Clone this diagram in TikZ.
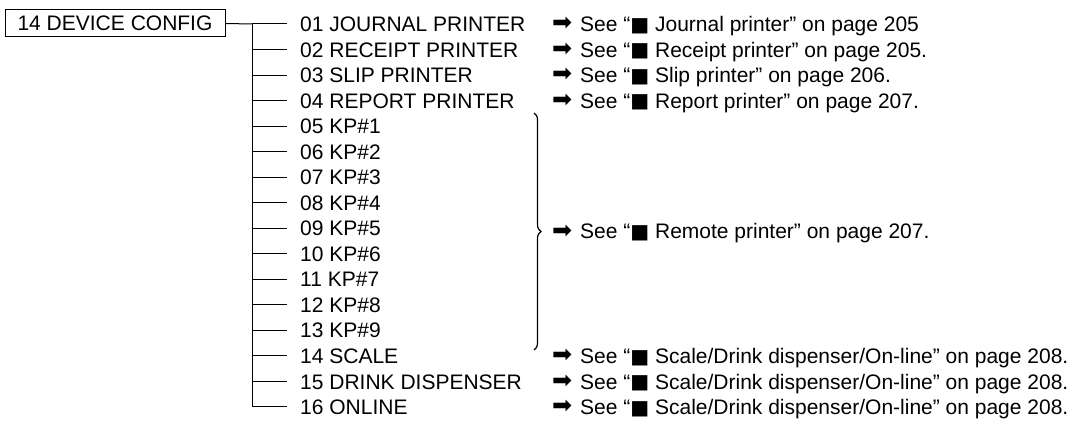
\documentclass[tikz,border=0pt]{standalone}
\usepackage{fontspec}
\setmainfont{Liberation Sans}
\newfontfamily\symfont{DejaVu Sans}
\usetikzlibrary{decorations.pathreplacing}
\begin{document}
\begin{tikzpicture}[x=1pt,y=-1pt,
  every node/.style={font=\fontsize{21}{25}\selectfont, inner sep=0pt},
  item/.style={anchor=base west, inner xsep=13pt},
  ref/.style={anchor=base west},
  arr/.style={anchor=west, font=\symfont\fontsize{24}{26}\selectfont},
  conn/.style={line width=1pt},
  rootbox/.style={draw, line width=1pt, minimum width=220pt, minimum height=27pt, inner xsep=0pt}]
\useasboundingbox (0,0) rectangle (1075,435);
\newcommand\sq{{\symfont\fontsize{20}{22}\selectfont\raisebox{0.3pt}{■}}}
\node[rootbox] (root) at (115,23.5) {14 DEVICE CONFIG};
\coordinate (trunktop) at (252,24);
\coordinate (trunkbot) at (252,407);
\draw[conn] (root.east) -- (trunktop);
\draw[conn] (trunktop) -- (trunkbot);
\foreach \i/\t [count=\k from 0] in {
  01/01 JOURNAL PRINTER, 02/02 RECEIPT PRINTER, 03/03 SLIP PRINTER, 04/04 REPORT PRINTER,
  05/05 KP\#1, 06/06 KP\#2, 07/07 KP\#3, 08/08 KP\#4, 09/09 KP\#5, 10/10 KP\#6,
  11/11 KP\#7, 12/12 KP\#8, 13/13 KP\#9, 14/14 SCALE, 15/15 DRINK DISPENSER, 16/16 ONLINE} {
  \pgfmathsetmacro\yy{24+25.53*\k}
  \coordinate (b\i) at (252,\yy);
  \node[item] (n\i) at (287,\yy+7.6) {\t};
  \draw[conn] (b\i) -- (b\i -| n\i.west);
}
% references
\foreach \i/\r in {
  01/{See “\sq{} Journal printer” on page 205},
  02/{See “\sq{} Receipt printer” on page 205.},
  03/{See “\sq{} Slip printer” on page 206.},
  04/{See “\sq{} Report printer” on page 207.},
  14/{See “\sq{} Scale/Drink dispenser/On-line” on page 208.},
  15/{See “\sq{} Scale/Drink dispenser/On-line” on page 208.},
  16/{See “\sq{} Scale/Drink dispenser/On-line” on page 208.}} {
  \node[arr] (a\i) at (552,0 |- b\i) {➡};
  \node[ref] (r\i) at (580,0 |- n\i.base) {\r};
}
% brace
\coordinate (bt) at (534,113);
\coordinate (bb) at (534,350);
\draw[line width=1.2pt, decorate, decoration={brace, amplitude=7pt}] (bt) -- (bb);
\coordinate (btip) at (541,231.5);
\node[arr] (arem) at (552,231.5) {➡};
\node[ref] (rrem) at (580,239) {See “\sq{} Remote printer” on page 207.};
\end{tikzpicture}
\end{document}
